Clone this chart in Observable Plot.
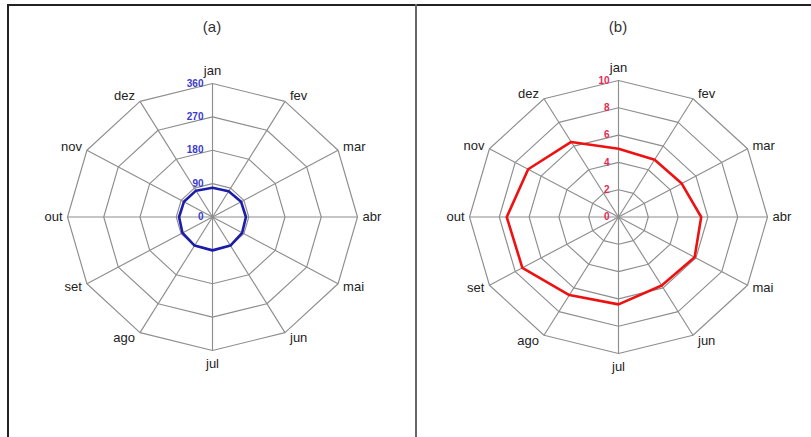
<!DOCTYPE html>
<html>
<head>
<meta charset="utf-8">
<script src="https://cdn.jsdelivr.net/npm/d3@7"></script>
<script src="https://cdn.jsdelivr.net/npm/@observablehq/plot@0.6"></script>
<style>
  html, body { margin: 0; padding: 0; background: #fff; }
  #wrap { position: relative; width: 811px; height: 437px; overflow: hidden; font-family: "Liberation Sans", Arial, sans-serif; }
  .panel { position: absolute; top: 0; }
  .title { position: absolute; top: 18px; font-size: 15px; color: #333; transform: translateX(-50%); }
  .ln { position: absolute; z-index: 5; }
</style>
</head>
<body>
<div id="wrap">
  <div class="ln" style="left:7px;top:4px;width:804px;height:2px;background:#222"></div>
  <div class="ln" style="left:7px;top:4px;width:2px;height:433px;background:#222"></div>
  <div class="ln" style="left:415px;top:4px;width:2px;height:433px;background:#666"></div>
  <div class="title" style="left:212px">(a)</div>
  <div class="title" style="left:618px">(b)</div>
  <div id="pa" class="panel" style="left:8px"></div>
  <div id="pb" class="panel" style="left:416px"></div>
</div>
<script>
const months = ["jan","fev","mar","abr","mai","jun","jul","ago","set","out","nov","dez"];
const valuesA = [79, 80, 82, 83, 85, 89, 90, 89, 86, 83, 82, 82];
const valuesB = [5.0, 4.85, 4.9, 5.55, 5.9, 5.8, 6.4, 6.6, 7.45, 7.5, 7.0, 6.35];
const ticksA = [0, 90, 180, 270, 360];
const ticksB = [0, 2, 4, 6, 8, 10];

function radar({values, ticks, lineColor, tickColor, width, height, margins}) {
  const max = ticks[ticks.length - 1];
  const ang = i => i * 2 * Math.PI / months.length;
  const pt = (i, r) => ({x: r * Math.sin(ang(i)), y: r * Math.cos(ang(i))});
  const rings = [];
  ticks.filter(t => t > 0).forEach(t => {
    months.forEach((m, i) => rings.push({ring: t, ...pt(i, t)}));
  });
  const spokes = months.map((m, i) => ({x1: 0, y1: 0, x2: pt(i, max).x, y2: pt(i, max).y}));
  const series = values.map((v, i) => ({month: months[i], ...pt(i, v)}));
  const labelMarks = months.map((m, i) => {
    const a = ang(i), s = Math.sin(a), c = Math.cos(a);
    const p = pt(i, max);
    let anchor = "middle", dx = 0, dy = 0;
    if (s > 0.1) { anchor = "start"; dx = 5; dy = -c * 6; }
    else if (s < -0.1) { anchor = "end"; dx = -5; dy = -c * 6; }
    else { dy = c > 0 ? -13 : 13; }
    return Plot.text([{...p, label: m}], {x: "x", y: "y", text: "label", textAnchor: anchor, dx, dy, fill: "#222", fontSize: 13});
  });
  return Plot.plot({
    width, height,
    marginLeft: margins[0], marginRight: margins[1], marginTop: margins[2], marginBottom: margins[3],
    x: {domain: [-max, max], axis: null},
    y: {domain: [-max, max], axis: null},
    style: {background: "transparent", overflow: "visible", fontFamily: "Liberation Sans, Arial, sans-serif"},
    marks: [
      Plot.line(rings, {x: "x", y: "y", z: "ring", curve: "linear-closed", stroke: "#8e8e8e", strokeWidth: 1.15}),
      Plot.link(spokes, {x1: "x1", y1: "y1", x2: "x2", y2: "y2", stroke: "#8e8e8e", strokeWidth: 1.15}),
      Plot.line(series, {x: "x", y: "y", curve: "linear-closed", stroke: lineColor, strokeWidth: 2.6}),
      Plot.text(ticks, {x: () => 0, y: d => d, text: d => String(d), textAnchor: "end", dx: -9, fill: tickColor, fontSize: 10, fontWeight: "bold"}),
      ...labelMarks
    ]
  });
}

document.getElementById("pa").append(radar({
  values: valuesA, ticks: ticksA, lineColor: "#1c1caa", tickColor: "#3a3ad0",
  width: 408, height: 437, margins: [59, 59, 83, 87]
}));
document.getElementById("pb").append(radar({
  values: valuesB, ticks: ticksB, lineColor: "#ee1111", tickColor: "#e02a55",
  width: 395, height: 437, margins: [53, 44, 80, 84]
}));
</script>
</body>
</html>
